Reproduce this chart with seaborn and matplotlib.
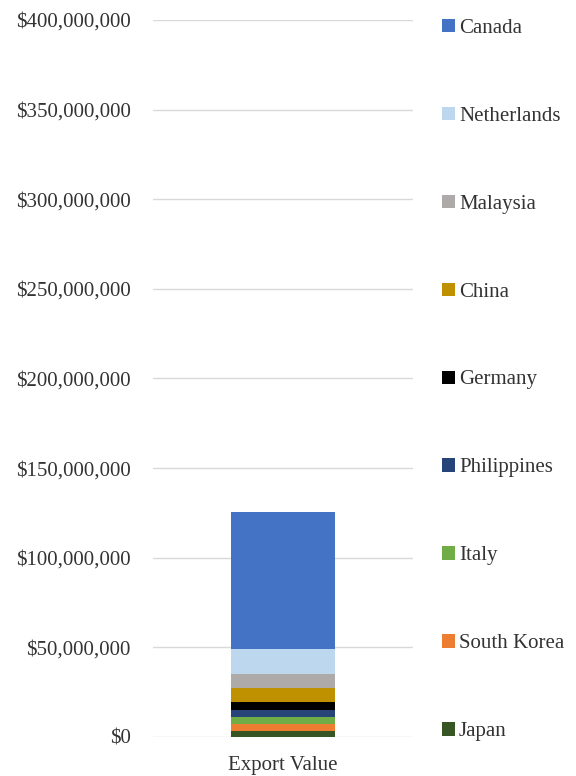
import numpy as np
import pandas as pd
import matplotlib
matplotlib.use("Agg")
import matplotlib.pyplot as plt
import seaborn as sns
from matplotlib.patches import Patch
from matplotlib.ticker import FuncFormatter

# DATA (bottom to top of the stack).

countries = ["Japan", "South Korea", "Italy", "Philippines", "Germany",
             "China", "Malaysia", "Netherlands", "Canada"]
values = [3.6e6, 3.5e6, 3.8e6, 3.9e6, 4.9e6, 7.4e6, 8.0e6, 14.1e6, 76.1e6]
colors = ["#375623", "#ED7D31", "#70AD47", "#264478", "#000000",
          "#BF9000", "#AEAAAA", "#BDD7EE", "#4472C4"]
category = ["Export Value"]

sns.set_style("white")
plt.rcParams["font.family"] = ["Liberation Serif", "DejaVu Serif"]

fig = plt.figure(figsize=(5.76, 7.76), dpi=100)
ax = fig.add_axes([0.2656, 0.0503, 0.451, 0.9239])

bottom = 0.0
for name, val, col in zip(countries, values, colors):
    df = pd.DataFrame({"cat": category, "val": [val]})
    sns.barplot(data=df, x="cat", y="val", color=col, width=0.4,
                bottom=bottom, ax=ax, saturation=1, linewidth=0)
    bottom += val

ax.set_ylim(0, 400e6)
ax.set_xlim(-0.5, 0.5)
ax.set_yticks(np.arange(0, 400e6 + 1, 50e6))
ax.yaxis.set_major_formatter(FuncFormatter(lambda v, p: f"${v:,.0f}"))
ax.yaxis.grid(True, color="#D9D9D9", linewidth=1)
ax.set_axisbelow(True)
for s in ax.spines.values():
    s.set_visible(False)
ax.tick_params(axis="both", length=0, labelsize=15, colors="#333333")
ax.tick_params(axis="y", pad=16)
ax.tick_params(axis="x", pad=14)
ax.set_xlabel("")
ax.set_ylabel("")

# Legend (Canada on top).

handles = [Patch(facecolor=c, edgecolor="none") for c in colors[::-1]]
fig.legend(handles, countries[::-1], loc="upper left",
           bbox_to_anchor=(0.757, 0.984), frameon=False, fontsize=15,
           labelspacing=3.31, handlelength=0.6, handleheight=0.6,
           handletextpad=0.2, labelcolor="#333333",
           borderaxespad=0, borderpad=0.3)

plt.savefig("out.png", dpi=100)
